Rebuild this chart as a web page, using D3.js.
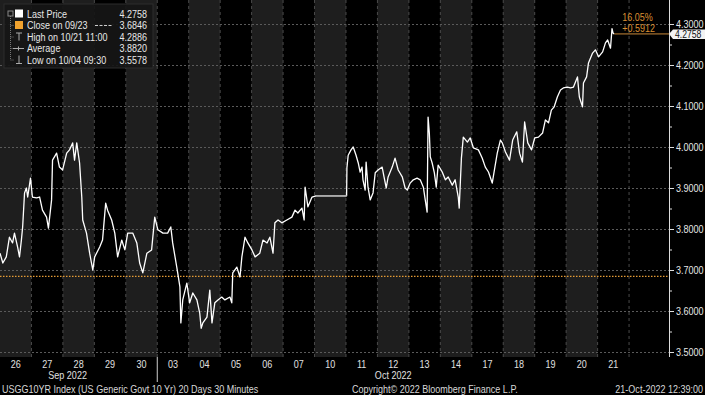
<!DOCTYPE html>
<html>
<head>
<meta charset="utf-8">
<script src="https://cdn.jsdelivr.net/npm/d3@7"></script>
<style>
  body { margin: 0; background: #000; }
  svg { display: block; font-family: "Liberation Sans", Arial, sans-serif; }
</style>
</head>
<body>
<svg id="chart"></svg>
<script>
// trading days shown on the x axis
const dayLabels = ["26","27","28","29","30","03","04","05","06","07","10","11","12","13","14","17","18","19","20","21"];
const monthLabels = ["Sep 2022", "Oct 2022"];
const monthCenters = [2.15, 12.5];   // in day units
const monthBreak = 5;                // Sep -> Oct

const yTicks = [3.5, 3.6, 3.7, 3.8, 3.9, 4.0, 4.1, 4.2, 4.3];
const yMinorTicks = [3.55, 3.65, 3.75, 3.85, 3.95, 4.05, 4.15, 4.25];

const closeValue = 3.6846;
const lastValue = 4.2758;
const changeLabels = ["16.05%", "+0.5912"];

const legendLabels = ["Last Price", "Close on 09/23", "High on 10/21 11:00", "Average", "Low on 10/04 09:30"];
const legendValues = ["4.2758", "3.6846", "4.2886", "3.8820", "3.5578"];

const footerLeft = "USGG10YR Index (US Generic Govt 10 Yr) 20 Days 30 Minutes";
const footerMid = "Copyright\u00A9 2022 Bloomberg Finance L.P.";
const footerRight = "21-Oct-2022 12:39:00";

// [time in trading days since 26 Sep 00:00, yield]
const priceSeries = [
  [0.00,3.741],[0.09,3.717],[0.20,3.732],[0.30,3.780],[0.40,3.766],[0.46,3.790],[0.56,3.756],[0.62,3.732],[0.68,3.773],[0.72,3.805],[0.78,3.888],[0.84,3.900],[0.88,3.878],[0.97,3.924],
  [1.03,3.878],[1.16,3.876],[1.26,3.878],[1.35,3.846],[1.48,3.829],[1.54,3.802],[1.64,3.871],[1.67,3.968],[1.80,3.985],[1.89,3.951],[1.99,3.944],
  [2.12,3.985],[2.21,3.993],[2.31,4.010],[2.37,3.968],[2.44,4.010],[2.53,3.961],[2.60,3.878],[2.63,3.822],[2.75,3.790],[2.85,3.741],[2.95,3.700],
  [3.01,3.732],[3.17,3.756],[3.26,3.773],[3.36,3.863],[3.42,3.846],[3.55,3.822],[3.65,3.790],[3.74,3.732],[3.87,3.773],[3.97,3.749],
  [4.06,3.790],[4.22,3.790],[4.35,3.766],[4.44,3.717],[4.54,3.693],[4.67,3.741],[4.82,3.749],[4.92,3.829],
  [5.02,3.798],[5.18,3.790],[5.33,3.790],[5.43,3.805],[5.49,3.766],[5.62,3.707],[5.65,3.693],[5.72,3.659],[5.75,3.571],[5.81,3.627],[5.94,3.668],
  [6.03,3.620],[6.13,3.644],[6.26,3.627],[6.35,3.595],[6.396,3.5578],[6.45,3.571],[6.58,3.585],[6.67,3.651],[6.74,3.571],[6.83,3.620],[6.93,3.627],
  [7.05,3.634],[7.15,3.627],[7.31,3.634],[7.37,3.620],[7.40,3.693],[7.53,3.707],[7.63,3.683],[7.69,3.732],[7.79,3.780],[7.88,3.766],
  [8.01,3.749],[8.11,3.732],[8.26,3.741],[8.36,3.773],[8.49,3.766],[8.58,3.780],[8.68,3.741],[8.74,3.815],[8.84,3.822],[8.96,3.815],
  [9.12,3.822],[9.28,3.829],[9.38,3.846],[9.47,3.839],[9.60,3.851],[9.67,3.822],[9.70,3.902],[9.79,3.854],[9.92,3.878],[10.05,3.881],
  [11.02,3.881],
  [11.03,3.949],[11.07,3.980],[11.16,3.993],[11.23,4.000],[11.32,3.980],[11.39,3.961],[11.45,3.939],[11.51,3.951],[11.54,3.920],[11.61,3.895],[11.64,3.963],[11.70,3.902],[11.77,3.871],[11.86,3.888],[11.93,3.937],
  [12.02,3.944],[12.15,3.951],[12.21,3.927],[12.28,3.900],[12.34,3.927],[12.47,3.951],[12.56,3.973],[12.66,3.944],[12.79,3.927],[12.88,3.900],[12.95,3.895],
  [13.04,3.912],[13.14,3.920],[13.26,3.924],[13.36,3.920],[13.46,3.902],[13.52,3.871],[13.58,3.841],[13.61,4.073],[13.65,4.034],[13.68,3.976],[13.74,3.961],[13.81,3.937],[13.87,3.902],[13.93,3.956],
  [14.06,3.939],[14.16,3.920],[14.25,3.927],[14.38,3.907],[14.47,3.920],[14.57,3.878],[14.60,3.851],[14.67,3.973],[14.73,4.024],[14.86,4.012],[14.95,4.022],
  [15.05,3.998],[15.21,3.993],[15.33,3.973],[15.43,3.951],[15.53,3.939],[15.65,3.912],[15.72,3.944],[15.81,3.985],[15.91,4.017],[15.97,4.010],
  [16.07,3.988],[16.20,3.968],[16.30,4.017],[16.43,4.037],[16.52,3.985],[16.61,3.963],[16.68,4.061],[16.78,4.010],[16.90,3.993],
  [17.00,4.022],[17.12,4.024],[17.25,4.034],[17.34,4.066],[17.44,4.059],[17.53,4.090],[17.62,4.098],[17.72,4.122],[17.82,4.139],[17.91,4.144],
  [18.04,4.146],[18.14,4.144],[18.23,4.146],[18.36,4.171],[18.42,4.122],[18.52,4.098],[18.55,4.156],[18.65,4.171],[18.71,4.205],[18.84,4.229],[18.93,4.237],
  [19.03,4.220],[19.16,4.232],[19.25,4.254],[19.32,4.261],[19.41,4.241],[19.458,4.2886],[19.49,4.278],[19.527,4.2758]
];

// the terminal font is narrow, squeeze Liberation Sans horizontally
const NARROW = 0.82;

function placeText(sel, x, y) {
    const fx = typeof x === 'function' ? x : () => x;
    const fy = typeof y === 'function' ? y : () => y;
    return sel.attr('transform', (d, i) => `translate(${fx(d, i)},${fy(d, i)}) scale(${NARROW},1)`);
}

class PriceChart {

    constructor(config, data) {
        this.config = {
            parent: config.parent,
            width: config.width || 705,
            height: config.height || 395,
            plotRight: config.plotRight || 669,
            plotBottom: config.plotBottom || 357
        };
        this.data = data;
        this.init();
    }

    init() {
        let self = this;

        self.svg = d3.select(self.config.parent)
            .attr('width', self.config.width)
            .attr('height', self.config.height);

        self.svg.append('rect')
            .attr('width', self.config.width)
            .attr('height', self.config.height)
            .attr('fill', '#000');

        // one band per trading day, the space after the last day is empty
        self.xscale = d3.scaleLinear()
            .domain([0, 21.27])
            .range([0, self.config.plotRight]);

        self.yscale = d3.scaleLinear()
            .domain([3.5, 4.3])
            .range([352, 24]);

        self.chart = self.svg.append('g');
    }

    render() {
        let self = this;
        const xs = self.xscale, ys = self.yscale;
        const right = self.config.plotRight, bottom = self.config.plotBottom;

        // alternate day shading
        self.chart.append('g')
            .selectAll('rect')
            .data(dayLabels)
            .join('rect')
            .attr('x', (d, i) => xs(i))
            .attr('y', 0)
            .attr('width', (d, i) => xs(i + 1) - xs(i))
            .attr('height', bottom)
            .attr('fill', (d, i) => i % 2 === 0 ? '#1e1e1e' : '#000');

        // day separators
        self.chart.append('g')
            .selectAll('line')
            .data(d3.range(1, dayLabels.length + 1))
            .join('line')
            .attr('x1', d => xs(d)).attr('x2', d => xs(d))
            .attr('y1', 0).attr('y2', bottom)
            .attr('stroke', '#4a4a4a')
            .attr('stroke-dasharray', '3,3');

        // horizontal grid
        self.chart.append('g')
            .selectAll('line')
            .data(yTicks)
            .join('line')
            .attr('x1', 0).attr('x2', right)
            .attr('y1', d => ys(d) + 0.5).attr('y2', d => ys(d) + 0.5)
            .attr('stroke', '#5a5a5a')
            .attr('stroke-dasharray', '2,2');

        // previous close
        self.chart.append('line')
            .attr('x1', 0).attr('x2', right)
            .attr('y1', ys(closeValue)).attr('y2', ys(closeValue))
            .attr('stroke', '#e39a35')
            .attr('stroke-width', 1.3)
            .attr('stroke-dasharray', '1.5,1.5');

        // price line
        const line = d3.line()
            .x(d => xs(d[0]))
            .y(d => ys(d[1]));

        self.chart.append('path')
            .datum(self.data)
            .attr('d', line)
            .attr('fill', 'none')
            .attr('stroke', '#fff')
            .attr('stroke-width', 1.3)
            .attr('stroke-linejoin', 'round');

        // no-trading stretch (holiday) drawn grey
        const gaps = d3.pairs(self.data).filter(p => p[1][0] - p[0][0] > 0.5);
        self.chart.append('g')
            .selectAll('path')
            .data(gaps)
            .join('path')
            .attr('d', line)
            .attr('fill', 'none')
            .attr('stroke', '#a8a8a8')
            .attr('stroke-width', 1.5);

        // last price marker
        const last = self.data[self.data.length - 1];
        self.chart.append('line')
            .attr('x1', xs(last[0])).attr('x2', right)
            .attr('y1', ys(lastValue)).attr('y2', ys(lastValue))
            .attr('stroke', '#c98a3a');

        placeText(self.chart.append('g')
            .selectAll('text')
            .data(changeLabels)
            .join('text'), xs(last[0]) + 8, (d, i) => ys(lastValue) - 13 + i * 11.5)
            .attr('font-size', '11px')
            .attr('fill', '#d98f33')
            .text(d => d);

        // right axis
        self.chart.append('line')
            .attr('x1', right + 0.5).attr('x2', right + 0.5)
            .attr('y1', 0).attr('y2', bottom)
            .attr('stroke', '#ddd');

        const yaxis = d3.axisRight(ys)
            .tickValues(yTicks)
            .tickFormat(d3.format('.4f'))
            .tickSize(5)
            .tickPadding(2);

        const yaxis_group = self.chart.append('g')
            .attr('transform', `translate(${right}, 0)`)
            .call(yaxis);
        yaxis_group.select('.domain').remove();
        yaxis_group.selectAll('line').attr('stroke', '#ddd');
        yaxis_group.selectAll('text')
            .attr('x', 7 / NARROW)
            .attr('transform', `scale(${NARROW},1)`)
            .attr('fill', '#e6e6e6')
            .attr('font-size', '11px')
            .attr('font-family', 'inherit');

        const minor_group = self.chart.append('g')
            .attr('transform', `translate(${right}, 0)`)
            .call(d3.axisRight(ys).tickValues(yMinorTicks).tickSize(3).tickFormat(''));
        minor_group.select('.domain').remove();
        minor_group.selectAll('line').attr('stroke', '#ddd');

        // last price tag
        const ty = ys(lastValue);
        self.chart.append('path')
            .attr('d', `M${right},${ty} L${right + 4},${ty - 4.5} L705,${ty - 4.5} L705,${ty + 5} L${right + 4},${ty + 5} Z`)
            .attr('fill', '#f2f2f2');
        placeText(self.chart.append('text'), right + 6, ty + 4)
            .attr('font-size', '10.5px')
            .attr('fill', '#111')
            .text(legendValues[0]);

        // x axis labels
        placeText(self.chart.append('g')
            .selectAll('text')
            .data(dayLabels)
            .join('text'), (d, i) => xs(i + 0.5), 368)
            .attr('text-anchor', 'middle')
            .attr('font-size', '11px')
            .attr('fill', '#e0e0e0')
            .text(d => d);

        placeText(self.chart.append('g')
            .selectAll('text')
            .data(monthLabels)
            .join('text'), (d, i) => xs(monthCenters[i]), 378.5)
            .attr('text-anchor', 'middle')
            .attr('font-size', '11px')
            .attr('fill', '#e0e0e0')
            .text(d => d);

        self.chart.append('line')
            .attr('x1', xs(monthBreak)).attr('x2', xs(monthBreak))
            .attr('y1', bottom).attr('y2', 382)
            .attr('stroke', '#cfcfcf');

        // footer
        const footer = self.svg.append('g')
            .attr('font-size', '11px')
            .attr('fill', '#d8d8d8');
        placeText(footer.append('text'), 2, 392.5).text(footerLeft);
        placeText(footer.append('text'), 352, 392.5).text(footerMid);
        placeText(footer.append('text'), 703, 392.5).attr('text-anchor', 'end').text(footerRight);

        self.renderLegend();
    }

    renderLegend() {
        let self = this;
        const legend = self.svg.append('g');
        const rowY = d => 17.5 + d * 11.5;

        legend.append('rect')
            .attr('x', 4).attr('y', 4)
            .attr('width', 149).attr('height', 64)
            .attr('fill', '#161616')
            .attr('fill-opacity', 0.92)
            .attr('stroke', '#2c2c2c');

        // tree connector
        legend.append('line')
            .attr('x1', 10.5).attr('x2', 10.5)
            .attr('y1', 16).attr('y2', rowY(4) - 3.5)
            .attr('stroke', '#777')
            .attr('stroke-dasharray', '1,1');
        legend.append('g')
            .selectAll('line')
            .data([1, 2, 3, 4])
            .join('line')
            .attr('x1', 10.5).attr('x2', 14)
            .attr('y1', d => rowY(d) - 3.5).attr('y2', d => rowY(d) - 3.5)
            .attr('stroke', '#777')
            .attr('stroke-dasharray', '1,1');
        legend.append('rect')
            .attr('x', 8).attr('y', 11)
            .attr('width', 5).attr('height', 5)
            .attr('fill', 'none')
            .attr('stroke', '#888');

        // icons
        legend.append('rect')
            .attr('x', 15).attr('y', rowY(0) - 8)
            .attr('width', 8).attr('height', 8)
            .attr('fill', '#fff');
        legend.append('rect')
            .attr('x', 15).attr('y', rowY(1) - 8)
            .attr('width', 8).attr('height', 8)
            .attr('fill', '#f0a22e');
        const iconStroke = '#aaa';
        legend.append('path')
            .attr('d', `M16,${rowY(2) - 7.5} H22 M19,${rowY(2) - 7.5} V${rowY(2)}`)
            .attr('stroke', iconStroke).attr('fill', 'none');
        legend.append('path')
            .attr('d', `M13,${rowY(3) - 3.5} H24 M18.5,${rowY(3) - 5.5} V${rowY(3) - 1.5}`)
            .attr('stroke', iconStroke).attr('fill', 'none');
        legend.append('path')
            .attr('d', `M19,${rowY(4) - 8} V${rowY(4)} M16,${rowY(4)} H22`)
            .attr('stroke', iconStroke).attr('fill', 'none');

        placeText(legend.append('g')
            .selectAll('text')
            .data(legendLabels)
            .join('text'), 27, (d, i) => rowY(i))
            .attr('font-size', '11px')
            .attr('fill', '#e8e8e8')
            .text(d => d);

        legend.append('line')
            .attr('x1', 95).attr('x2', 112)
            .attr('y1', rowY(1) - 3.5).attr('y2', rowY(1) - 3.5)
            .attr('stroke', '#ccc')
            .attr('stroke-dasharray', '3,1.5');

        placeText(legend.append('g')
            .selectAll('text')
            .data(legendValues)
            .join('text'), 147, (d, i) => rowY(i))
            .attr('text-anchor', 'end')
            .attr('font-size', '11px')
            .attr('fill', '#e8e8e8')
            .text(d => d);
    }
}

const chart = new PriceChart({ parent: '#chart', width: 705, height: 395 }, priceSeries);
chart.render();
</script>
</body>
</html>
